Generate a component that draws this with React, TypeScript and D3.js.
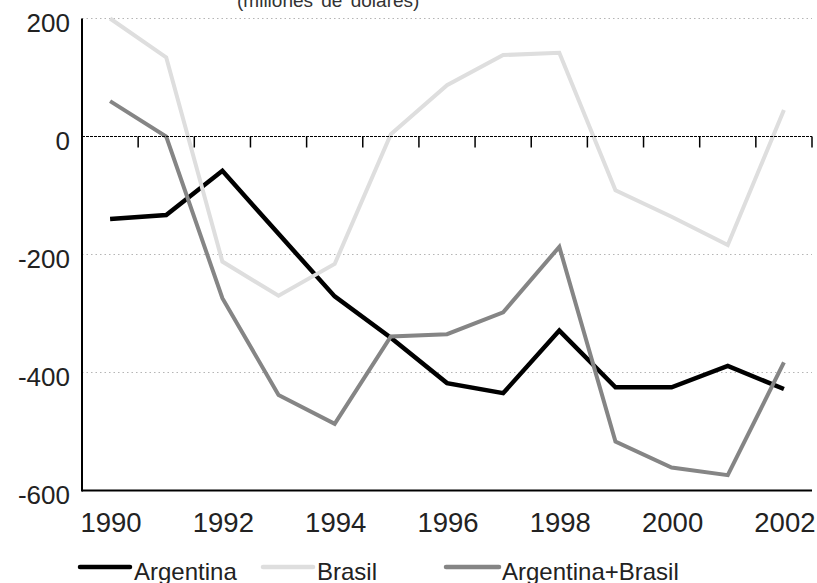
import React from "react";
import * as d3 from "d3";

const years = [1990, 1991, 1992, 1993, 1994, 1995, 1996, 1997, 1998, 1999, 2000, 2001, 2002];
const argentina = [-140, -133, -58, -165, -271, -341, -418, -435, -329, -425, -425, -389, -428];
const brasil = [200, 134, -212, -270, -216, 4, 87, 138, 142, -91, -136, -184, 45];
const argBrasil = [60, 0, -274, -438, -487, -339, -335, -298, -187, -517, -561, -574, -383];
const yTicks = [200, 0, -200, -400, -600];
const xLabelYears = [1990, 1992, 1994, 1996, 1998, 2000, 2002];
const title = "(millones de dolares)";

const seriesList = [
  { name: "Argentina", values: argentina, color: "#000000", width: 4.5 },
  { name: "Brasil", values: brasil, color: "#dedede", width: 4 },
  { name: "Argentina+Brasil", values: argBrasil, color: "#858585", width: 4 },
];

const legendItems = [
  { name: "Argentina", color: "#000000", x0: 80, x1: 130, tx: 134 },
  { name: "Brasil", color: "#dedede", x0: 263, x1: 313, tx: 317 },
  { name: "Argentina+Brasil", color: "#858585", x0: 446, x1: 499, tx: 502 },
];

export default function App() {
  const W = 817;
  const H = 583;
  const left = 82;
  const right = 812;
  const x = d3.scaleBand<number>().domain(years).range([left, right]).padding(0);
  const y = d3.scaleLinear().domain([-600, 200]).range([490.5, 18.5]);
  const bw = x.bandwidth();
  const cx = (yr: number) => (x(yr) as number) + bw / 2;

  const line = d3
    .line<number>()
    .x((_, i) => cx(years[i]))
    .y((v) => y(v))
    .curve(d3.curveLinear);

  const font = "'Liberation Sans', Arial, Helvetica, sans-serif";

  return (
    <svg width={W} height={H} style={{ position: "absolute", left: 0, top: 0, background: "#fff" }} fontFamily={font}>
      <rect x={0} y={0} width={W} height={H} fill="#fff" />
      {/* title (clipped at top) */}
      <text x={237} y={7} fontSize={19} fill="#333" wordSpacing={3}>{title}</text>

      {/* gridlines */}
      {yTicks.filter((t) => t !== 0 && t !== -600).map((t) => (
        <line key={t} x1={left} x2={right} y1={y(t)} y2={y(t)} stroke="#b5b5b5" strokeWidth={1} strokeDasharray="1.5,3" />
      ))}

      {/* y labels */}
      {yTicks.map((t) => (
        <text key={"yl" + t} x={70} y={y(t) + 13.5} fontSize={26} textAnchor="end" fill="#222">{t}</text>
      ))}

      {/* x labels */}
      {xLabelYears.map((yr) => (
        <text key={"xl" + yr} x={cx(yr) + 1} y={532} fontSize={27.5} textAnchor="middle" fill="#222">{yr}</text>
      ))}

      {/* lines */}
      {seriesList.map((s) => (
        <path key={s.name} d={line(s.values) || ""} fill="none" stroke={s.color} strokeWidth={s.width} strokeLinejoin="miter" />
      ))}

      {/* zero axis */}
      <line x1={left} x2={right} y1={y(0)} y2={y(0)} stroke="#000" strokeWidth={1} strokeDasharray="3,1" />
      {years.map((yr) => (
        <line key={"tk" + yr} x1={(x(yr) as number) + bw} x2={(x(yr) as number) + bw} y1={y(0)} y2={y(0) + 11} stroke="#000" strokeWidth={1.5} />
      ))}

      {/* left axis and bottom */}
      <line x1={left} x2={left} y1={y(200)} y2={y(-600) + 1} stroke="#000" strokeWidth={2} />
      <line x1={left} x2={right} y1={y(-600)} y2={y(-600)} stroke="#000" strokeWidth={2} />

      {/* legend */}
      {legendItems.map((l) => (
        <g key={"lg" + l.name}>
          <line x1={l.x0} x2={l.x1} y1={567} y2={567} stroke={l.color} strokeWidth={4.5} strokeLinecap="round" />
          <text x={l.tx} y={580} fontSize={24} fill="#222">{l.name}</text>
        </g>
      ))}
    </svg>
  );
}
